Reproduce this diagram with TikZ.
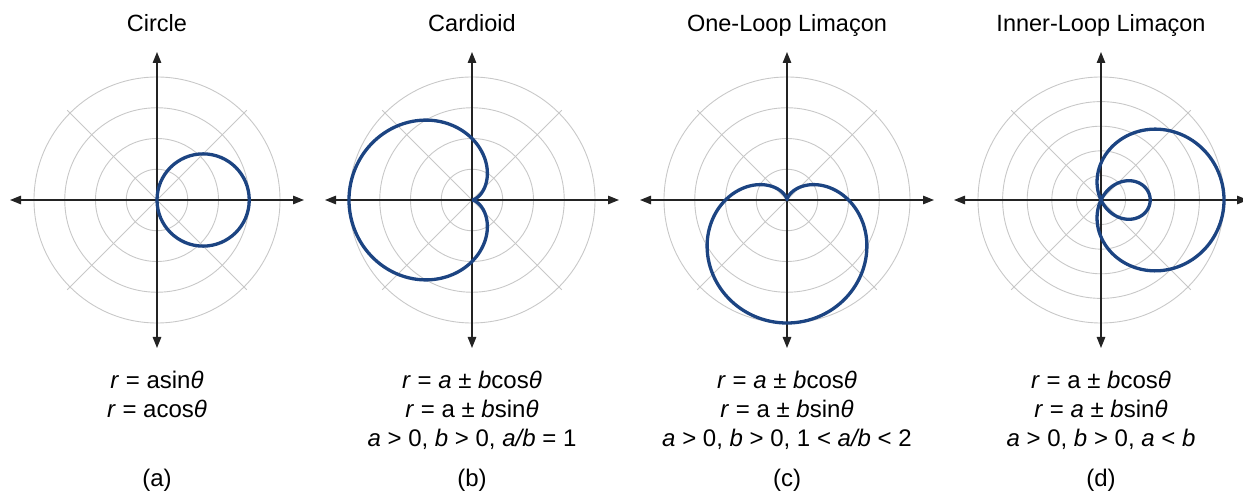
\documentclass[tikz,border=0pt]{standalone}
\usepackage{fontspec}
\setmainfont{Liberation Sans}
\usetikzlibrary{arrows.meta}
\definecolor{gridgray}{RGB}{200,200,200}
\definecolor{axisgray}{RGB}{35,35,35}
\definecolor{curveblue}{RGB}{28,68,130}
\begin{document}
\begin{tikzpicture}[x=1pt,y=1pt,
  gridline/.style={gridgray, line width=0.9pt},
  axisline/.style={axisgray, line width=1.2pt, {Triangle[length=11pt,width=8.5pt]}-{Triangle[length=11pt,width=8.5pt]}},
  curve/.style={curveblue, line width=3.3pt, line join=round},
  title/.style={font=\fontsize{23.5}{28}\selectfont, anchor=base, inner sep=0pt},
  eq/.style={font=\fontsize{24}{29}\selectfont, anchor=base, inner sep=0pt}]
\useasboundingbox (0,0) rectangle (1243,493);
\clip (0,0) rectangle (1243,493);

% ---------- panel (a)
\begin{scope}[shift={(157,293)}]
  \coordinate (ca) at (0,0);
  \foreach \k in {1,...,4} \draw[gridline] (ca) circle[radius={\k*30.75pt}];
  \draw[gridline] (45:127) -- (225:127);
  \draw[gridline] (135:127) -- (315:127);
  \draw[axisline] (-147,0) -- (147,0);
  \draw[axisline] (0,-148) -- (0,148);
  \draw[curve] (46.125,0) circle[radius=46.125pt];
\end{scope}

% ---------- panel (b)
\begin{scope}[shift={(472,293)}]
  \coordinate (cb) at (0,0);
  \foreach \k in {1,...,4} \draw[gridline] (cb) circle[radius={\k*30.75pt}];
  \draw[gridline] (45:127) -- (225:127);
  \draw[gridline] (135:127) -- (315:127);
  \draw[axisline] (-147,0) -- (147,0);
  \draw[axisline] (0,-148) -- (0,148);
  \draw[curve] plot[domain=0:360, samples=361] ({30.75*(2-2*cos(\x))*cos(\x)}, {30.75*(2-2*cos(\x))*sin(\x)});
\end{scope}

% ---------- panel (c)
\begin{scope}[shift={(787,293)}]
  \coordinate (cc) at (0,0);
  \foreach \k in {1,...,4} \draw[gridline] (cc) circle[radius={\k*30.75pt}];
  \draw[gridline] (45:127) -- (225:127);
  \draw[gridline] (135:127) -- (315:127);
  \draw[axisline] (-147,0) -- (147,0);
  \draw[axisline] (0,-148) -- (0,148);
  \draw[curve] plot[domain=-90:270, samples=361] ({30.75*(2-2*sin(\x))*cos(\x)}, {30.75*(2-2*sin(\x))*sin(\x)});
\end{scope}

% ---------- panel (d)
\begin{scope}[shift={(1101,293)}]
  \coordinate (cd) at (0,0);
  \foreach \k in {1,...,5} \draw[gridline] (cd) circle[radius={\k*24.6pt}];
  \draw[gridline] (45:127) -- (225:127);
  \draw[gridline] (135:127) -- (315:127);
  \draw[axisline] (-147,0) -- (147,0);
  \draw[axisline] (0,-148) -- (0,148);
  \draw[curve] plot[domain=0:360, samples=361] ({24.6*(1.5+3.5*cos(\x))*cos(\x)}, {24.6*(1.5+3.5*cos(\x))*sin(\x)});
\end{scope}

% ---------- titles
\node[title] (ta) at (157,461) {Circle};
\node[title] (tb) at (472,461) {Cardioid};
\node[title] (tc) at (787,461) {One-Loop Limaçon};
\node[title] (td) at (1101,461) {Inner-Loop Limaçon};

% ---------- equations
\node[eq] (a1) at (157,104) {\textit{r} = asin\textit{θ}};
\node[eq] (a2) at (157,75) {\textit{r} = acos\textit{θ}};
\node[eq] (la) at (157,6) {(a)};

\node[eq] (b1) at (472,104) {\textit{r} = \textit{a} ± \textit{b}cos\textit{θ}};
\node[eq] (b2) at (472,75) {\textit{r} = a ± \textit{b}sin\textit{θ}};
\node[eq] (b3) at (472,46) {\textit{a} > 0, \textit{b} > 0, \textit{a/b} = 1};
\node[eq] (lb) at (472,6) {(b)};

\node[eq] (c1) at (787,104) {\textit{r} = \textit{a} ± \textit{b}cos\textit{θ}};
\node[eq] (c2) at (787,75) {\textit{r} = a ± \textit{b}sin\textit{θ}};
\node[eq] (c3) at (787,46) {\textit{a} > 0, \textit{b} > 0, 1 < \textit{a/b} < 2};
\node[eq] (lc) at (787,6) {(c)};

\node[eq] (d1) at (1101,104) {\textit{r} = a ± \textit{b}cos\textit{θ}};
\node[eq] (d2) at (1101,75) {\textit{r} = \textit{a} ± \textit{b}sin\textit{θ}};
\node[eq] (d3) at (1101,46) {\textit{a} > 0, \textit{b} > 0, \textit{a} < \textit{b}};
\node[eq] (ld) at (1101,6) {(d)};
\end{tikzpicture}
\end{document}
